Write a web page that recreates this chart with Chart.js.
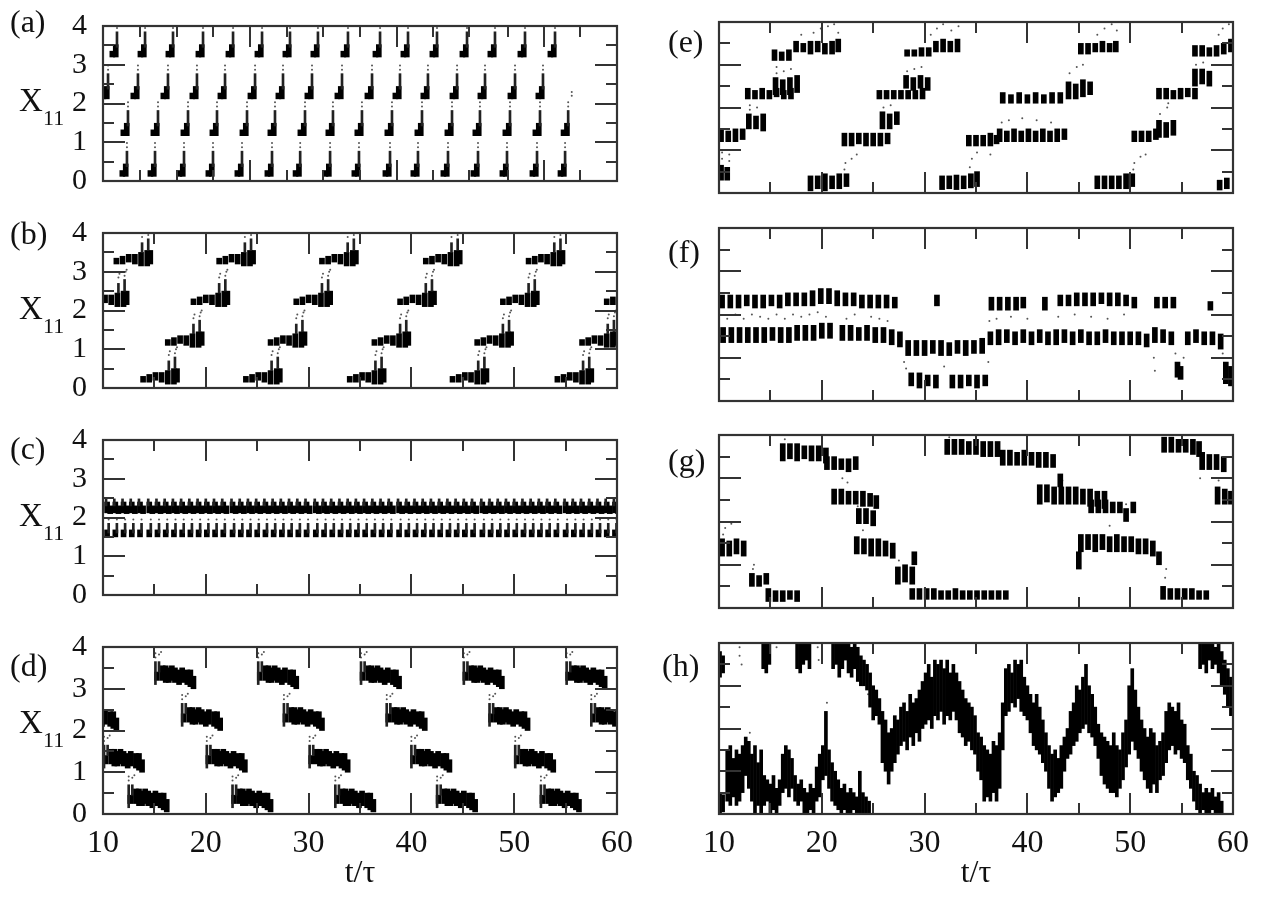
<!DOCTYPE html>
<html>
<head>
<meta charset="utf-8">
<script src="https://cdn.jsdelivr.net/npm/chart.js@4.4.0/dist/chart.umd.min.js"></script>
<style>
body { margin: 0; background: #fff; width: 1262px; height: 899px; position: relative; overflow: hidden; font-family: "Liberation Serif", serif; color: #111; }
canvas { position: absolute; }
.lbl { position: absolute; line-height: 1; white-space: nowrap; }
</style>
</head>
<body>
<script>
// ---------- axis ticks ----------
const stdXMajor = [20, 30, 40, 50];
const stdXMinor = [15, 25, 35, 45, 55];
const aXMajor = [24.3, 38.6, 52.9];
const aXMinor = [13.6, 17.2, 20.7, 27.9, 31.4, 35.0, 42.1, 45.6, 49.4, 56.4];
const yMajor = [1, 2, 3];
const yMinor = [0.5, 1.5, 2.5, 3.5];
const xTickLabels = [10, 20, 30, 40, 50, 60];
const yTickLabels = [0, 1, 2, 3, 4];

// ---------- (a) four levels, one "j" mark per visit ----------
const aRow0 = [12.33, 15.06, 17.88, 20.70, 23.52, 26.44, 29.18, 32.09, 34.90, 37.92, 40.64, 43.56, 46.48, 49.30, 52.22, 54.95];
const aRow1 = [12.43, 15.35, 18.27, 21.09, 24.01, 26.73, 29.65, 32.37, 35.19, 38.11, 41.03, 43.95, 46.67, 49.59, 52.51, 55.25];
const aRow2 = [10.49, 13.40, 16.32, 19.14, 21.87, 24.79, 27.51, 30.33, 33.25, 36.17, 38.89, 41.61, 44.44, 47.16, 50.08, 52.80];
const aRow3 = [11.36, 14.09, 16.81, 19.73, 22.65, 25.47, 28.19, 30.91, 33.83, 36.95, 39.67, 42.49, 45.41, 48.13, 51.05, 53.97];
const aLevels = [0.12, 1.17, 2.12, 3.2];
const aMark = {
  thick: [[-0.12, 0.0, 0.32], [-0.45, 0.0, 0.15]],
  thin: [[0, 0.25, 0.65]],
  dots: [[0, 0.75], [0, 0.86]]
};
const aExtraDots = [[55.6, 2.3], [55.6, 2.2]];

// ---------- (b) rising staircase, groups [start t, level] ----------
const bGroups = [[9.0, 2.1], [11.3, 3.15], [13.9, 0.1], [16.3, 1.05], [18.8, 2.1], [21.3, 3.15],
  [23.9, 0.1], [26.3, 1.05], [28.8, 2.1], [31.3, 3.15], [34.0, 0.1], [36.4, 1.05], [38.9, 2.1], [41.4, 3.15],
  [44.0, 0.1], [46.4, 1.05], [48.9, 2.1], [51.4, 3.15], [54.2, 0.1], [56.6, 1.05], [59.0, 2.1]];
const bMark = {
  thick: [[0.0, 0.05, 0.2], [0.6, 0.05, 0.25], [1.2, 0.1, 0.3], [1.8, 0.05, 0.3], [2.4, 0.0, 0.35], [3.0, 0.0, 0.4], [3.3, 0.05, 0.4]],
  thin: [[2.5, 0.35, 0.6], [3.1, 0.4, 0.7]],
  dots: [[2.5, 0.75], [2.6, 0.85], [3.1, 0.8], [3.2, 0.9], [3.3, 0.95]]
};

// ---------- (c) two locked bands ----------
const cBeats = [10.4, 11.2, 12.0, 12.8, 13.6, 14.5, 15.3, 16.1, 16.9, 17.7, 18.5, 19.3, 20.1, 20.9, 21.7, 22.6,
  23.4, 24.2, 25.0, 25.8, 26.6, 27.4, 28.2, 29.0, 29.8, 30.7, 31.5, 32.3, 33.1, 33.9, 34.7, 35.5, 36.3, 37.1,
  37.9, 38.8, 39.6, 40.4, 41.2, 42.0, 42.8, 43.6, 44.4, 45.2, 46.0, 46.9, 47.7, 48.5, 49.3, 50.1, 50.9, 51.7,
  52.5, 53.3, 54.1, 55.0, 55.8, 56.6, 57.4, 58.2, 59.0, 59.8];
const cUpper = 2.1;
const cLower = 1.5;
const cUpperMark = { thick: [[0, 0.02, 0.3], [0.3, 0.0, 0.2]], thin: [[-0.1, 0.2, 0.38]], dots: [] };
const cLowerMark = { thick: [[0, 0.0, 0.18]], thin: [[0.15, 0.1, 0.35]], dots: [[0.15, 0.45]] };

// ---------- (d) falling staircase, groups [start t, level] ----------
const dGroups = [[7.6, 2.1], [10.1, 1.1], [12.5, 0.15], [15.1, 3.1], [17.7, 2.1], [20.1, 1.1], [22.6, 0.15],
  [25.1, 3.1], [27.6, 2.1], [30.1, 1.1], [32.6, 0.15], [35.1, 3.1], [37.6, 2.1], [40.0, 1.1], [42.5, 0.15],
  [45.1, 3.1], [47.6, 2.1], [50.1, 1.1], [52.6, 0.15], [55.1, 3.1], [57.5, 2.1]];
const dMark = {
  thick: [[0.15, 0.1, 0.3], [0.7, 0.1, 0.45], [1.0, 0.05, 0.45], [1.3, 0.05, 0.4], [1.6, 0.1, 0.45], [1.9, 0.05, 0.4],
    [2.3, 0.0, 0.35], [2.6, 0.05, 0.4], [3.1, 0.0, 0.35], [3.4, -0.05, 0.35], [3.7, -0.1, 0.2]],
  thin: [[0, 0, 0.55], [0.35, 0.3, 0.55]],
  dots: [[0, 0.65], [0, 0.75], [0.35, 0.72], [0.55, 0.78]]
};

// ---------- (e) strokes [t, low, high] ----------
const eStrokes = [
  [10.2,1.2,1.5],[10.9,1.2,1.45],[11.6,1.2,1.5],[12.3,1.25,1.5],[10.2,0.3,0.65],[10.8,0.3,0.6],
  [12.9,1.5,1.85],[13.6,1.5,1.8],[14.3,1.45,1.85],
  [12.8,2.2,2.45],[13.5,2.2,2.4],[14.2,2.2,2.45],[14.9,2.2,2.4],[15.6,2.25,2.45],[16.3,2.2,2.4],[17.0,2.2,2.45],
  [15.5,2.3,2.7],[16.2,2.3,2.65],[16.9,2.3,2.7],[17.6,2.35,2.75],
  [15.4,3.1,3.35],[16.1,3.1,3.3],[16.8,3.1,3.35],
  [17.5,3.3,3.55],[18.2,3.3,3.5],[18.9,3.25,3.55],[19.6,3.3,3.55],[20.3,3.25,3.5],[21.0,3.25,3.55],[21.6,3.3,3.6],
  [18.9,0.05,0.4],[19.6,0.1,0.4],[20.3,0.05,0.45],[21.0,0.1,0.4],[21.7,0.1,0.45],[22.4,0.15,0.45],
  [22.2,1.1,1.4],[22.9,1.1,1.4],[23.6,1.15,1.4],[24.3,1.1,1.4],[25.0,1.1,1.4],[25.7,1.1,1.4],[26.4,1.15,1.4],
  [25.9,1.5,1.9],[26.6,1.5,1.85],[27.3,1.6,1.9],
  [25.6,2.2,2.4],[26.3,2.2,2.4],[27.0,2.2,2.4],[27.7,2.2,2.4],[28.4,2.2,2.4],[29.1,2.2,2.4],[29.8,2.2,2.45],
  [28.2,2.45,2.75],[28.9,2.4,2.7],[29.6,2.45,2.75],[30.3,2.4,2.7],
  [28.3,3.2,3.35],[29.0,3.2,3.35],[29.7,3.2,3.4],[30.4,3.2,3.4],[31.1,3.3,3.55],[31.8,3.3,3.6],[32.5,3.3,3.55],[33.2,3.3,3.6],
  [31.7,0.08,0.4],[32.4,0.1,0.4],[33.1,0.08,0.42],[33.8,0.1,0.4],[34.5,0.12,0.45],[35.1,0.15,0.5],
  [34.3,1.1,1.35],[35.0,1.1,1.35],[35.7,1.1,1.35],[36.4,1.1,1.4],[37.0,1.15,1.35],
  [37.3,1.2,1.5],[38.0,1.2,1.45],[38.7,1.2,1.5],[39.4,1.2,1.45],[40.1,1.2,1.5],[40.8,1.2,1.45],[41.5,1.2,1.5],[42.2,1.2,1.45],[42.9,1.2,1.5],[43.6,1.25,1.5],
  [37.6,2.1,2.35],[38.4,2.1,2.3],[39.2,2.1,2.35],[40.0,2.1,2.3],[40.8,2.1,2.35],[41.6,2.1,2.3],[42.4,2.1,2.35],[43.2,2.1,2.35],
  [44.0,2.2,2.6],[44.7,2.2,2.55],[45.4,2.25,2.65],[46.1,2.3,2.6],
  [45.2,3.25,3.5],[45.9,3.25,3.5],[46.6,3.3,3.5],[47.3,3.3,3.55],[48.0,3.3,3.5],[48.6,3.3,3.55],
  [46.8,0.1,0.4],[47.5,0.1,0.4],[48.2,0.1,0.4],[48.9,0.1,0.4],[49.6,0.1,0.45],[50.2,0.15,0.45],
  [50.4,1.2,1.45],[51.1,1.2,1.45],[51.8,1.2,1.45],[52.5,1.25,1.5],
  [52.8,1.3,1.7],[53.5,1.3,1.65],[54.2,1.35,1.7],
  [52.8,2.2,2.45],[53.5,2.2,2.45],[54.2,2.2,2.4],[54.9,2.2,2.45],[55.6,2.25,2.45],[56.3,2.2,2.45],
  [56.3,2.5,2.9],[57.0,2.55,2.9],[57.7,2.5,2.85],
  [56.3,3.2,3.45],[57.0,3.2,3.45],[57.7,3.2,3.4],[58.4,3.2,3.45],[59.1,3.25,3.5],[59.8,3.3,3.6],
  [58.7,0.07,0.3],[59.4,0.1,0.35]
];
const eDots = [[10.3,0.8],[10.3,0.95],[11.0,0.75],[11.0,0.9],[13.0,1.95],[13.0,2.05],[13.7,2.0],[15.6,2.8],[15.6,2.95],
  [16.3,2.85],[17.0,2.9],[18.0,3.7],[19.2,3.75],[19.9,3.85],[20.6,3.9],[21.2,3.95],[21.6,3.75],[22.2,0.55],[22.3,0.7],
  [22.9,0.8],[23.4,0.9],[26.0,2.0],[26.7,2.05],[28.3,2.85],[29.0,2.9],[29.7,2.95],[30.6,3.7],[31.2,3.85],[31.8,3.95],
  [32.6,3.8],[33.3,3.9],[34.4,0.6],[34.6,0.8],[35.1,0.95],[36.4,0.9],[37.5,1.65],[38.2,1.7],[39.5,1.75],[40.9,1.7],
  [42.3,1.65],[44.1,2.8],[44.8,2.95],[45.4,3.0],[46.8,3.7],[47.5,3.85],[48.2,3.95],[48.7,3.8],[50.3,0.55],[50.4,0.7],
  [51.0,0.85],[51.5,0.9],[52.9,1.85],[53.6,2.0],[53.7,2.1],[56.4,3.0],[57.1,3.05],[58.6,3.7],[59.0,3.85],[59.6,3.95]];

// ---------- (f) ----------
const fStrokes = [
  [10.3,2.15,2.45],[11.1,2.15,2.45],[11.9,2.15,2.45],[12.7,2.2,2.45],[13.5,2.15,2.45],[14.3,2.15,2.45],[15.1,2.2,2.45],
  [15.9,2.15,2.45],[16.7,2.2,2.5],[17.5,2.2,2.5],[18.3,2.2,2.5],[19.1,2.2,2.55],[19.9,2.25,2.6],[20.7,2.25,2.6],
  [21.5,2.2,2.55],[22.3,2.2,2.5],[23.1,2.2,2.5],[23.9,2.15,2.45],[24.7,2.15,2.45],[25.5,2.15,2.45],[26.3,2.15,2.45],[27.1,2.15,2.4],
  [10.4,1.35,1.7],[11.2,1.35,1.7],[12.0,1.35,1.7],[12.8,1.35,1.7],[13.6,1.35,1.7],[14.4,1.35,1.7],[15.2,1.4,1.7],
  [16.0,1.35,1.7],[16.8,1.35,1.7],[17.6,1.4,1.75],[18.4,1.4,1.75],[19.2,1.4,1.75],[20.0,1.45,1.8],[20.8,1.45,1.8],
  [22.0,1.4,1.75],[22.8,1.4,1.75],[23.6,1.4,1.7],[24.4,1.4,1.75],[25.2,1.35,1.7],[26.0,1.35,1.7],[26.8,1.3,1.65],[27.6,1.25,1.6],
  [28.4,1.05,1.4],[29.2,1.05,1.4],[30.0,1.05,1.4],[30.8,1.1,1.4],[31.6,1.05,1.4],[32.4,1.05,1.35],[33.2,1.1,1.4],
  [34.0,1.05,1.4],[34.8,1.1,1.4],[35.6,1.1,1.45],
  [28.7,0.35,0.65],[29.5,0.3,0.65],[30.3,0.35,0.6],[31.1,0.3,0.6],[32.7,0.3,0.6],[33.5,0.3,0.6],[34.3,0.35,0.6],[35.1,0.3,0.6],[35.9,0.35,0.6],
  [31.2,2.2,2.45],
  [36.4,1.3,1.6],[37.2,1.3,1.65],[38.0,1.35,1.65],[38.8,1.3,1.6],[39.6,1.35,1.65],[40.4,1.3,1.6],[41.2,1.35,1.65],
  [42.0,1.3,1.6],[42.8,1.3,1.65],[43.6,1.35,1.65],[44.4,1.3,1.6],[45.2,1.35,1.65],[46.0,1.3,1.6],[46.8,1.3,1.6],
  [47.6,1.35,1.65],[48.4,1.3,1.6],[49.2,1.3,1.6],[50.0,1.3,1.6],[50.8,1.3,1.6],[51.6,1.25,1.55],[52.4,1.35,1.7],
  [53.2,1.35,1.65],[54.0,1.3,1.6],[55.6,1.3,1.6],[56.4,1.35,1.65],[57.2,1.3,1.6],[58.0,1.3,1.6],[58.8,1.2,1.55],
  [54.6,0.55,0.9],[54.9,0.5,0.8],[59.3,0.4,0.9],[59.8,0.35,0.8],
  [36.5,2.1,2.4],[37.3,2.1,2.4],[38.1,2.1,2.4],[38.9,2.1,2.4],[39.6,2.15,2.4],[41.7,2.1,2.4],
  [43.2,2.2,2.45],[44.0,2.2,2.45],[44.8,2.2,2.5],[45.6,2.2,2.5],[46.4,2.2,2.5],[47.2,2.25,2.5],[48.0,2.2,2.5],
  [48.8,2.2,2.5],[49.6,2.2,2.45],[50.4,2.15,2.4],
  [52.6,2.15,2.4],[53.4,2.15,2.4],[54.2,2.15,2.4],[57.8,2.1,2.3]
];
const fDots = [[10.8,1.9],[11.6,2.0],[12.4,1.9],[13.2,2.0],[14.0,1.95],[14.8,1.9],[15.6,2.0],[16.4,1.9],[17.2,2.0],
  [18.0,1.95],[18.8,2.0],[19.6,2.05],[20.4,1.95],[22.4,1.9],[23.2,2.0],[24.8,1.95],[25.6,1.9],[26.4,1.85],[28.0,0.9],
  [28.2,0.75],[31.9,0.8],[36.2,0.9],[36.3,1.85],[37.0,1.9],[38.4,1.95],[40.0,1.9],[43.0,1.95],[44.6,2.0],[46.2,1.95],
  [47.8,1.9],[49.4,2.0],[52.3,1.0],[52.4,0.7],[54.4,1.1],[55.2,1.0],[59.0,1.1]];

// ---------- (g) ----------
const gStrokes = [
  [10.3,1.2,1.6],[11.0,1.2,1.55],[11.7,1.25,1.6],[12.4,1.2,1.55],
  [13.2,0.5,0.8],[13.9,0.5,0.75],[14.6,0.55,0.8],
  [14.8,0.15,0.45],[15.5,0.15,0.4],[16.2,0.15,0.4],[16.9,0.2,0.4],[17.6,0.15,0.4],
  [16.2,3.4,3.8],[16.9,3.45,3.8],[17.6,3.4,3.8],[18.3,3.45,3.75],[19.0,3.4,3.75],[19.7,3.4,3.75],[20.4,3.35,3.7],
  [20.5,3.2,3.5],[21.2,3.2,3.5],[21.9,3.2,3.45],[22.6,3.15,3.45],[23.3,3.2,3.5],
  [21.2,2.4,2.75],[21.9,2.4,2.75],[22.6,2.4,2.7],[23.3,2.4,2.7],[24.0,2.35,2.7],[24.7,2.35,2.65],[25.3,2.3,2.6],
  [23.6,1.95,2.3],[24.3,1.95,2.3],[25.0,1.9,2.25],
  [23.4,1.25,1.65],[24.1,1.25,1.6],[24.8,1.2,1.6],[25.5,1.2,1.6],[26.2,1.2,1.55],[26.9,1.15,1.5],
  [27.4,0.55,0.95],[28.1,0.6,1.0],[28.8,0.55,0.95],[29.0,1.0,1.3],
  [28.8,0.2,0.45],[29.5,0.2,0.45],[30.2,0.2,0.45],[30.9,0.2,0.45],[31.6,0.2,0.4],[32.3,0.2,0.4],[33.0,0.2,0.45],
  [33.7,0.2,0.4],[34.4,0.2,0.4],[35.1,0.2,0.4],[35.8,0.2,0.4],[36.5,0.2,0.4],[37.2,0.2,0.4],[37.9,0.2,0.4],
  [32.2,3.55,3.9],[32.9,3.55,3.9],[33.6,3.55,3.9],[34.3,3.55,3.85],[35.0,3.55,3.9],[35.7,3.5,3.85],[36.4,3.5,3.85],[37.1,3.5,3.85],
  [37.6,3.3,3.65],[38.3,3.3,3.65],[39.0,3.3,3.6],[39.7,3.3,3.65],[40.4,3.3,3.6],[41.1,3.25,3.6],[41.8,3.25,3.6],[42.5,3.25,3.55],[43.2,2.8,3.1],
  [41.2,2.4,2.85],[41.9,2.45,2.85],[42.6,2.4,2.8],[43.3,2.4,2.8],[44.0,2.4,2.8],[44.7,2.4,2.8],[45.4,2.4,2.75],[46.1,2.35,2.75],[46.8,2.35,2.7],[47.5,2.3,2.7],
  [46.2,2.2,2.5],[46.9,2.2,2.5],[47.6,2.2,2.5],[48.3,2.2,2.45],[49.0,2.2,2.45],[49.6,2.0,2.3],[50.3,2.2,2.45],
  [45.2,1.3,1.7],[45.9,1.35,1.7],[46.6,1.3,1.7],[47.3,1.35,1.7],[48.0,1.3,1.65],[48.7,1.3,1.7],[49.4,1.3,1.65],
  [50.1,1.3,1.65],[50.8,1.25,1.6],[51.5,1.25,1.6],[52.2,1.2,1.55],[52.8,1.0,1.3],[45.0,0.9,1.3],
  [53.2,0.2,0.5],[53.9,0.2,0.45],[54.6,0.2,0.45],[55.3,0.2,0.45],[56.0,0.2,0.45],[56.7,0.2,0.4],[57.4,0.2,0.4],
  [53.3,3.6,3.95],[54.0,3.6,3.95],[54.7,3.6,3.9],[55.4,3.6,3.9],[56.1,3.55,3.9],[56.7,3.5,3.85],
  [57.0,3.2,3.6],[57.7,3.2,3.55],[58.4,3.2,3.55],[59.1,3.15,3.5],
  [58.5,2.4,2.8],[59.2,2.4,2.75],[59.8,2.4,2.7]
];
const gDots = [[10.4,1.7],[10.6,1.85],[11.2,1.95],[13.3,0.9],[13.4,1.0],[16.4,3.9],[17.0,4.0],[22.0,3.0],[22.5,2.9],
  [23.5,2.35],[24.0,1.8],[27.5,1.1],[32.4,3.95],[33.2,4.0],[43.4,2.95],[48.0,1.9],[49.6,2.4],[53.4,0.7],[53.5,0.9],[56.8,3.0],[58.6,2.95]];

// ---------- (h) noisy drift ----------
const hStrokes = [
  [10.1,0.0,0.5],[10.4,0.05,0.45],[10.8,0.3,1.5],[11.1,0.2,1.6],[11.4,0.4,1.3],[11.7,0.2,1.5],[12.0,0.3,1.4],[12.3,0.5,1.6],
  [12.6,0.9,1.8],[12.9,0.6,1.7],[13.2,0.3,1.4],[13.5,0.0,1.6],[13.8,0.2,1.2],[14.1,0.0,1.5],[14.4,0.2,0.9],[14.7,0.3,0.8],
  [15.0,0.0,0.7],[15.3,0.1,0.9],[15.6,0.0,0.6],[15.9,0.2,0.8],[16.2,0.5,1.4],[16.5,0.6,1.6],[16.8,0.4,1.5],[17.1,0.6,1.3],
  [17.4,0.3,0.9],[17.7,0.2,0.7],[18.0,0.3,0.8],[18.3,0.0,0.6],[18.6,0.0,0.5],[18.9,0.1,0.7],[19.2,0.0,0.6],[19.5,0.3,1.1],
  [19.8,0.4,1.4],[20.1,0.8,1.6],[20.4,0.9,2.4],[20.7,0.6,1.5],[21.0,0.3,1.2],[21.3,0.2,1.0],[21.6,0.1,0.8],[21.9,0.0,0.6],
  [22.2,0.1,0.7],[22.5,0.0,0.5],[22.8,0.0,0.6],[23.1,0.1,0.5],[23.4,0.0,0.4],[23.7,0.0,1.0],[24.0,0.0,0.5],[24.3,0.0,0.4],[24.6,0.0,0.3],
  [10.1,3.2,3.8],[10.4,3.3,3.7],[14.3,3.4,4.0],[14.6,3.3,4.0],[14.9,3.5,4.0],[17.6,3.4,4.0],[17.9,3.3,4.0],[18.2,3.5,4.0],
  [18.5,3.6,4.0],[18.8,3.4,4.0],[21.1,3.4,4.0],[21.4,3.5,4.0],[21.7,3.2,4.0],[22.0,3.4,4.0],[22.3,3.6,4.0],[22.6,3.3,4.0],
  [22.9,3.2,3.9],[23.2,3.4,4.0],[23.5,3.1,3.9],[23.8,3.0,3.7],[24.1,3.0,3.6],[24.4,2.9,3.5],[24.7,2.5,3.3],[25.0,2.2,3.0],
  [25.3,2.3,2.9],[25.6,2.1,2.7],[25.9,1.2,2.4],[26.2,1.0,2.2],[26.5,0.7,1.9],[26.8,1.0,2.0],[27.1,1.2,2.3],[27.4,1.4,2.2],
  [27.7,1.6,2.5],[28.0,1.7,2.6],[28.3,1.5,2.4],[28.6,1.8,2.8],[28.9,1.6,2.6],[29.2,1.9,2.7],[29.5,1.7,2.9],[29.8,2.0,3.1],
  [30.1,2.1,3.3],[30.4,2.2,3.5],[30.7,2.0,3.2],[31.0,2.3,3.6],[31.3,2.2,3.5],[31.6,2.4,3.6],[31.9,2.1,3.4],[32.2,2.3,3.6],
  [32.5,2.2,3.3],[32.8,2.4,3.5],[33.1,2.2,3.3],[33.4,1.9,3.1],[33.7,1.8,2.9],[34.0,1.6,2.7],[34.3,1.7,2.6],[34.6,1.5,2.5],
  [34.9,1.4,2.3],[35.2,1.0,1.9],[35.5,0.8,1.8],[35.8,0.3,1.6],[36.1,0.4,1.5],[36.4,0.3,1.4],[36.7,0.5,1.7],[37.0,0.3,1.6],
  [37.3,0.6,1.9],[37.6,1.5,2.6],[37.9,2.3,3.4],[38.2,2.4,3.5],[38.5,2.6,3.3],[38.8,2.5,3.6],[39.1,2.7,3.5],[39.4,2.4,3.6],
  [39.7,2.3,3.2],[40.0,2.2,3.0],[40.3,1.9,2.8],[40.6,1.6,2.6],[40.9,1.5,2.8],[41.2,1.4,2.5],[41.5,1.2,2.2],[41.8,1.0,1.9],
  [42.1,0.6,1.6],[42.4,0.3,1.4],[42.7,0.4,1.5],[43.0,0.5,1.3],[43.3,0.6,1.6],[43.6,1.0,1.8],[43.9,1.3,2.0],[44.2,1.4,2.4],
  [44.5,1.6,2.6],[44.8,1.7,3.0],[45.1,1.9,2.9],[45.4,2.0,3.2],[45.7,2.1,3.5],[46.0,1.9,3.0],[46.3,1.8,2.8],[46.6,1.6,2.5],
  [46.9,1.3,2.1],[47.2,0.9,1.9],[47.5,0.7,1.8],[47.8,0.6,1.7],[48.1,0.5,1.6],[48.4,0.5,1.9],[48.7,0.4,1.6],[49.0,0.6,1.5],
  [49.3,0.8,1.9],[49.6,1.1,2.2],[49.9,1.4,3.0],[50.2,1.7,3.4],[50.5,1.5,2.9],[50.8,1.3,2.5],[51.1,1.0,2.2],[51.4,0.8,2.0],
  [51.7,0.6,1.8],[52.0,0.5,2.0],[52.3,0.7,1.9],[52.6,0.5,1.6],[52.9,0.8,1.7],[53.2,0.9,1.9],[53.5,1.2,2.4],[53.8,1.5,2.6],
  [54.1,1.6,2.5],[54.4,1.4,2.4],[54.7,1.5,2.6],[55.0,1.3,2.2],[55.3,1.2,2.1],[55.6,0.8,1.6],[55.9,0.6,1.4],[56.2,0.3,1.0],
  [56.5,0.1,0.9],[56.8,0.0,0.7],[57.1,0.1,0.5],[57.4,0.0,0.6],[57.7,0.0,0.5],[58.0,0.1,0.6],[58.3,0.0,0.4],[58.6,0.0,0.5],[58.9,0.0,0.3],
  [56.8,3.4,4.0],[57.1,3.5,4.0],[57.4,3.3,4.0],[57.7,3.6,4.0],[58.0,3.4,4.0],[58.3,3.5,3.9],[58.6,3.3,4.0],[58.9,3.0,3.8],
  [59.2,2.8,3.6],[59.5,2.5,3.4],[59.8,2.3,3.2]
];
const hDots = [[12.0,3.7],[12.0,3.9],[12.2,3.5],[15.6,3.9],[19.6,3.9],[19.7,3.6],[24.5,2.8],[20.5,2.6],[13.0,1.9]];

// ---------- helpers ----------
function fromMark(anchors, mark) {
  const out = { thick: [], thin: [], dots: [] };
  anchors.forEach(([t0, base]) => {
    mark.thick.forEach(s => out.thick.push([t0 + s[0], base + s[1], base + s[2]]));
    mark.thin.forEach(s => out.thin.push([t0 + s[0], base + s[1], base + s[2]]));
    mark.dots.forEach(s => out.dots.push([t0 + s[0], base + s[1]]));
  });
  return out;
}
function merge(...parts) {
  return {
    thick: parts.flatMap(p => p.thick),
    thin: parts.flatMap(p => p.thin),
    dots: parts.flatMap(p => p.dots)
  };
}

const aData = merge(
  fromMark(aRow0.map(t => [t, aLevels[0]]), aMark),
  fromMark(aRow1.map(t => [t, aLevels[1]]), aMark),
  fromMark(aRow2.map(t => [t, aLevels[2]]), aMark),
  fromMark(aRow3.map(t => [t, aLevels[3]]), aMark),
  { thick: [], thin: [], dots: aExtraDots }
);
const bData = fromMark(bGroups, bMark);
const cData = merge(fromMark(cBeats.map(t => [t, cUpper]), cUpperMark), fromMark(cBeats.map(t => [t, cLower]), cLowerMark));
const dData = fromMark(dGroups, dMark);

function barSet(list, w, color) {
  return {
    type: 'bar',
    data: list.map(s => ({ x: s[0], y: [s[1], s[2]] })),
    backgroundColor: color,
    barThickness: w,
    grouped: false,
    borderWidth: 0,
    clip: 0
  };
}
function dotSet(list) {
  return {
    type: 'line',
    data: list.map(d => ({ x: d[0], y: d[1] })),
    showLine: false,
    pointRadius: 1,
    pointBackgroundColor: '#555',
    pointBorderWidth: 0,
    clip: 0
  };
}

// frame + inward ticks on all four sides
const frameTicks = {
  id: 'frameTicks',
  afterDatasetsDraw(chart, args, opts) {
    const { ctx, chartArea: a, scales: { x, y } } = chart;
    ctx.save();
    ctx.strokeStyle = '#333';
    ctx.lineWidth = 2;
    ctx.beginPath();
    const xt = (list, len) => list.forEach(v => {
      const p = Math.round(x.getPixelForValue(v));
      ctx.moveTo(p, a.bottom); ctx.lineTo(p, a.bottom - len);
      ctx.moveTo(p, a.top); ctx.lineTo(p, a.top + len);
    });
    const yt = (list, len) => list.forEach(v => {
      const p = Math.round(y.getPixelForValue(v));
      ctx.moveTo(a.left, p); ctx.lineTo(a.left + len, p);
      ctx.moveTo(a.right, p); ctx.lineTo(a.right - len, p);
    });
    xt(opts.xMajor, 21); xt(opts.xMinor, 11);
    yt(yMajor, 22); yt(yMinor, 11);
    ctx.stroke();
    ctx.lineWidth = 2.2;
    ctx.strokeRect(a.left, a.top, a.right - a.left, a.bottom - a.top);
    ctx.restore();
  }
};

const panels = [
  { key: 'a', col: 0, row: 0, data: aData, xMajor: aXMajor, xMinor: aXMinor },
  { key: 'b', col: 0, row: 1, data: bData, xMajor: stdXMajor, xMinor: stdXMinor },
  { key: 'c', col: 0, row: 2, data: cData, xMajor: stdXMajor, xMinor: stdXMinor },
  { key: 'd', col: 0, row: 3, data: dData, xMajor: stdXMajor, xMinor: stdXMinor },
  { key: 'e', col: 1, row: 0, data: { thick: eStrokes, thin: [], dots: eDots }, xMajor: stdXMajor, xMinor: stdXMinor },
  { key: 'f', col: 1, row: 1, data: { thick: fStrokes, thin: [], dots: fDots }, xMajor: stdXMajor, xMinor: stdXMinor },
  { key: 'g', col: 1, row: 2, data: { thick: gStrokes, thin: [], dots: gDots }, xMajor: stdXMajor, xMinor: stdXMinor },
  { key: 'h', col: 1, row: 3, data: { thick: hStrokes, thin: [], dots: hDots }, xMajor: stdXMajor, xMinor: stdXMinor, dense: true }
];

const rowBox = [
  { top: 0, h: 207, pt: 22, pb: 14 },
  { top: 207, h: 207, pt: 21, pb: 13 },
  { top: 414, h: 207, pt: 21, pb: 13 },
  { top: 621, h: 278, pt: 22, pb: 0 }
];
const colBox = [
  { left: 0, w: 640, axisW: 103, pr: 23 },
  { left: 640, w: 622, axisW: 79, pr: 29 }
];
const serif = 'Liberation Serif';

panels.forEach(p => {
  const r = rowBox[p.row], c = colBox[p.col];
  const cv = document.createElement('canvas');
  cv.width = c.w; cv.height = r.h;
  cv.style.left = c.left + 'px'; cv.style.top = r.top + 'px';
  document.body.appendChild(cv);
  const bottomRow = p.row === 3;
  const datasets = [
    barSet(p.data.thin, 2, '#222'),
    barSet(p.data.thick, p.dense ? 3 : 5, '#000'),
    dotSet(p.data.dots)
  ];
  new Chart(cv, {
    type: 'bar',
    data: { datasets },
    plugins: [frameTicks],
    options: {
      responsive: false,
      animation: false,
      events: [],
      layout: { padding: { left: 0, right: c.pr, top: r.pt, bottom: r.pb } },
      plugins: {
        legend: { display: false },
        tooltip: { enabled: false },
        frameTicks: { xMajor: p.xMajor, xMinor: p.xMinor }
      },
      scales: {
        x: {
          type: 'linear', min: 10, max: 60, offset: false,
          display: bottomRow,
          grid: { display: false }, border: { display: false },
          afterBuildTicks: s => { s.ticks = xTickLabels.map(v => ({ value: v })); },
          ticks: { font: { family: serif, size: 32 }, color: '#111', padding: 2, maxRotation: 0, autoSkip: false },
          title: { display: true, text: 't/τ', font: { family: serif, size: 32 }, color: '#111', padding: { top: 0, bottom: 6 } },
          afterFit: s => { s.height = bottomRow ? 85 : 0; }
        },
        y: {
          type: 'linear', min: 0, max: 4,
          grid: { display: false }, border: { display: false },
          afterBuildTicks: s => { s.ticks = yTickLabels.map(v => ({ value: v })); },
          ticks: { display: p.col === 0, autoSkip: false, font: { family: serif, size: 30 }, color: '#111', padding: 8 },
          afterFit: s => { s.width = c.axisW; }
        }
      }
    }
  });
});

// panel letters and X11 labels
const letterPos = { a: [10, 5], b: [10, 217], c: [10, 432], d: [10, 649], e: [668, 25], f: [668, 235], g: [668, 444], h: [662, 649] };
Object.keys(letterPos).forEach(k => {
  const d = document.createElement('div');
  d.className = 'lbl';
  d.style.fontSize = '32px';
  d.style.left = letterPos[k][0] + 'px';
  d.style.top = letterPos[k][1] + 'px';
  d.textContent = '(' + k + ')';
  document.body.appendChild(d);
});
[84, 292, 499, 706].forEach(top => {
  const x = document.createElement('div');
  x.className = 'lbl';
  x.style.fontSize = '33px';
  x.style.left = '19px';
  x.style.top = top + 'px';
  x.textContent = 'X';
  document.body.appendChild(x);
  const s = document.createElement('div');
  s.className = 'lbl';
  s.style.fontSize = '22px';
  s.style.left = '43px';
  s.style.top = (top + 22.6) + 'px';
  s.textContent = '11';
  document.body.appendChild(s);
});
</script>
</body>
</html>
